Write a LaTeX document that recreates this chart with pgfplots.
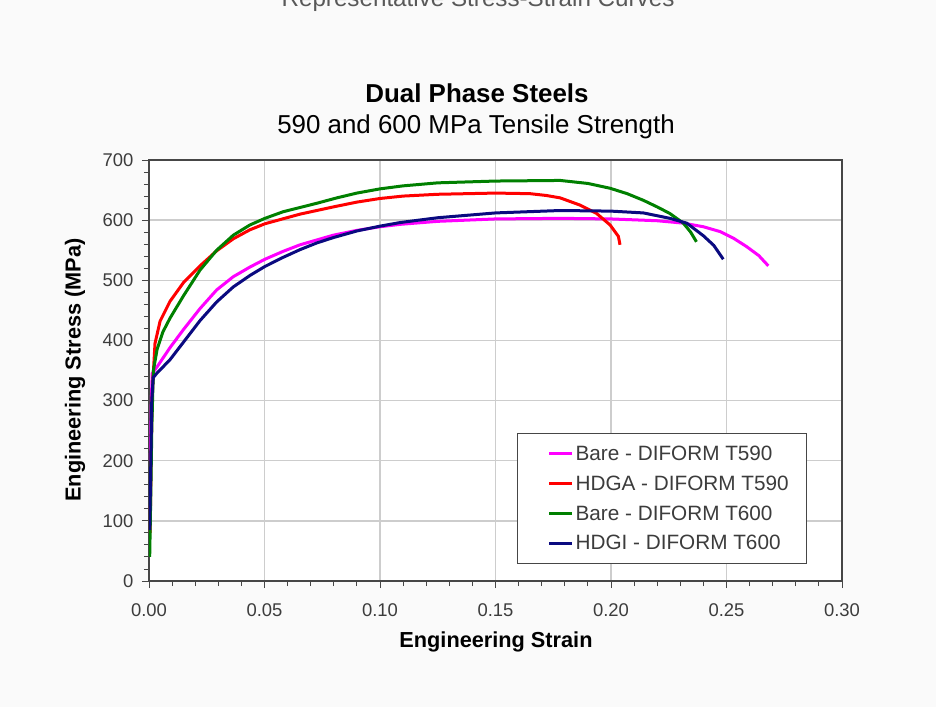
\documentclass[border=0pt]{standalone}
\usepackage{pgfplots}
\pgfplotsset{compat=1.18}
\usepackage{fontspec}
\setmainfont{Liberation Sans}
\definecolor{cMag}{RGB}{255,0,255}
\definecolor{cRed}{RGB}{255,0,0}
\definecolor{cGrn}{RGB}{0,128,0}
\definecolor{cNav}{RGB}{10,10,128}
\definecolor{cAxis}{RGB}{70,70,70}
\definecolor{cGrid}{RGB}{205,205,205}
\definecolor{cText}{RGB}{60,60,60}
\begin{document}
\begin{tikzpicture}
\useasboundingbox (-149bp,-126bp) rectangle (787bp,581bp);
\fill[white!98!black] (-149bp,-126bp) rectangle (787bp,581bp);
\node[anchor=base, text=black!65, font=\fontsize{24.3}{26}\selectfont] at (329bp,574bp) {Representative Stress-Strain Curves};
\node[font=\bfseries\fontsize{26}{28}\selectfont] at (328bp,488bp) {Dual Phase Steels};
\node[font=\fontsize{26}{28}\selectfont] at (327bp,454bp) {590 and 600 MPa Tensile Strength};
\begin{axis}[
  at={(0,0)}, anchor=south west,
  scale only axis, width=693bp, height=421bp,
  xmin=0, xmax=0.3, ymin=0, ymax=700,
  xtick={0,0.05,0.1,0.15,0.2,0.25,0.3},
  xticklabels={0.00,0.05,0.10,0.15,0.20,0.25,0.30},
  ytick={0,100,200,300,400,500,600,700},
  minor x tick num=4, minor y tick num=4,
  xtick pos=bottom, ytick pos=left,
  tick align=outside, major tick length=7bp, minor tick length=5bp,
  every tick/.style={cAxis, line width=0.9bp},
  grid=major, major grid style={color=cGrid, line width=1.3bp},
  axis line style={color=cAxis, line width=1.3bp},
  axis background/.style={fill=white},
  /pgf/number format/assume math mode=true,
  tick label style={font=\fontsize{18.5}{20}\selectfont, text=cText},
  xticklabel style={yshift=-12bp},
  yticklabel style={xshift=-5bp},
  scaled ticks=false,
  xlabel={Engineering Strain},
  ylabel={Engineering Stress (MPa)},
  label style={font=\bfseries\fontsize{21.8}{24}\selectfont},
  xlabel style={at={(axis description cs:0.5007,-0.145)}, anchor=center},
  ylabel style={at={(axis description cs:-0.1068,0.501)}, anchor=center, rotate=0},
  legend cell align=left,
  legend image code/.code={\path (0bp,0bp) (37bp,0bp); \draw[#1, line width=3bp] (14bp,0bp) -- (37bp,0bp);},
  legend style={at={(axis description cs:0.531,0.3515)}, anchor=north west,
    draw=cAxis, line width=1.3bp, fill=white,
    font=\fontsize{20.8}{22}\selectfont, text=cText,
    row sep=10bp, inner xsep=16bp, inner ysep=10bp},
]
\addplot[cMag, line width=3bp] coordinates {
(0.0006,200)(0.0010,300)(0.0014,345)(0.0033,355)(0.0091,388)(0.0149,418)(0.0221,453)(0.0293,484)(0.0365,506)(0.0437,522)(0.0502,535)(0.0580,548)(0.0654,559)(0.0726,567)(0.0798,575)(0.0900,583)(0.10,589)(0.1087,593)(0.125,598)(0.15,602)(0.178,603)(0.20,602)(0.22,599)(0.2313,595)(0.24,589)(0.2472,581)(0.2530,570)(0.2587,556)(0.2640,541)(0.2681,524)};
\addlegendentry{Bare - DIFORM T590}
\addplot[cRed, line width=3bp] coordinates {
(0.0005,80)(0.0009,200)(0.0013,300)(0.0018,340)(0.0026,395)(0.0048,432)(0.0091,465)(0.0149,496)(0.0221,524)(0.0293,549)(0.0365,569)(0.0437,584)(0.0502,594)(0.0654,610)(0.0798,622)(0.0900,630)(0.10,636)(0.11,640)(0.125,643)(0.15,645)(0.165,644)(0.172,641)(0.178,637)(0.1866,625)(0.1938,611)(0.1996,592)(0.2032,573)(0.2039,559)};
\addlegendentry{HDGA - DIFORM T590}
\addplot[cGrn, line width=3bp] coordinates {
(0.0003,40)(0.0008,150)(0.0012,250)(0.0016,310)(0.0019,350)(0.0035,385)(0.0060,414)(0.0091,437)(0.0149,474)(0.0221,517)(0.0293,550)(0.0365,575)(0.0437,592)(0.0502,603)(0.0581,614)(0.0726,628)(0.0813,637)(0.0900,645)(0.10,652)(0.11,657)(0.125,662)(0.15,665)(0.178,666)(0.19,661)(0.1996,653)(0.207,644)(0.214,633)(0.220,622)(0.2255,611)(0.2313,595)(0.2345,580)(0.237,564)};
\addlegendentry{Bare - DIFORM T600}
\addplot[cNav, line width=3bp] coordinates {
(0.0003,85)(0.0008,200)(0.0012,300)(0.0018,338)(0.0033,345)(0.0091,368)(0.0149,397)(0.0221,433)(0.0293,464)(0.0365,489)(0.0437,508)(0.0502,523)(0.0580,538)(0.0654,551)(0.0726,562)(0.0798,571)(0.0900,582)(0.10,590)(0.1087,596)(0.125,604)(0.15,612)(0.178,616)(0.20,615)(0.214,612)(0.2255,603)(0.2328,595)(0.24,574)(0.2445,558)(0.2486,535)};
\addlegendentry{HDGI - DIFORM T600}
\end{axis}
\end{tikzpicture}
\end{document}
